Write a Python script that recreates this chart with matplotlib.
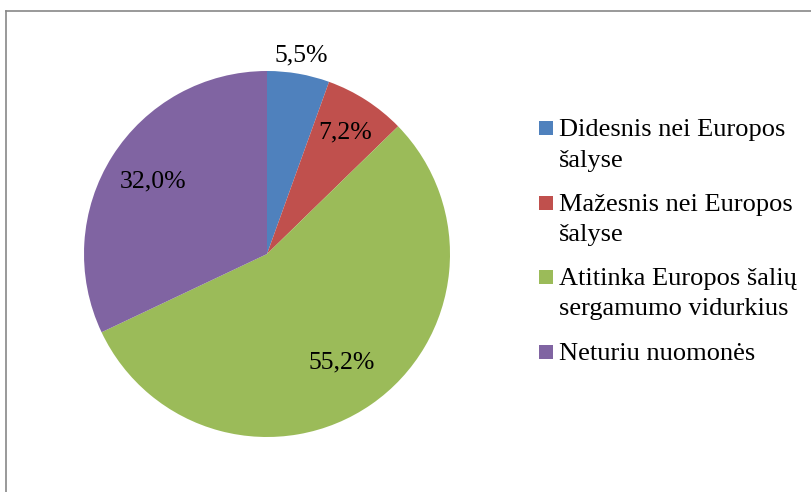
import matplotlib.pyplot as plt
from matplotlib.patches import Rectangle
from matplotlib.lines import Line2D
import numpy as np

# Data
categories = [['Didesnis nei Europos', 'šalyse'],
              ['Mažesnis nei Europos', 'šalyse'],
              ['Atitinka Europos šalių', 'sergamumo vidurkius'],
              ['Neturiu nuomonės']]
values = [5.5, 7.2, 55.2, 32.0]
value_labels = ['5,5%', '7,2%', '55,2%', '32,0%']
colors = ['#4F81BD', '#C0504D', '#9BBB59', '#8064A2']
label_radius = [1.1, 0.79, 0.72, 0.74]

W, H = 811, 492
plt.rcParams['font.family'] = ['Liberation Serif', 'DejaVu Serif']

fig = plt.figure(figsize=(W / 100, H / 100), dpi=100)

# pie axes: centre (267, 254) px, radius 183 px
cx, cy, r = 267, 254, 183
ax = fig.add_axes([(cx - r) / W, (H - cy - r) / H, 2 * r / W, 2 * r / H])
wedges, _ = ax.pie(values, colors=colors, startangle=90, counterclock=False,
                   wedgeprops=dict(linewidth=0))
ax.set_xlim(-1, 1)
ax.set_ylim(-1, 1)
ax.set_aspect('equal')

for w, lab, lr in zip(wedges, value_labels, label_radius):
    mid = np.deg2rad((w.theta1 + w.theta2) / 2)
    ax.text(lr * np.cos(mid), lr * np.sin(mid), lab, ha='center', va='center',
            fontsize=18.5, color='black')

# legend drawn by hand so the marker sits on the first line
fs = 19
line_step = 30.5
entry_step = 44
y = 136  # baseline of first line, px from top
for lines, c in zip(categories, colors):
    fig.patches.append(Rectangle((539 / W, (H - y + 1) / H), 14 / W, 14 / H,
                                 transform=fig.transFigure, color=c, lw=0))
    for i, line in enumerate(lines):
        fig.text(559 / W, (H - y) / H, line, fontsize=fs, va='baseline', ha='left')
        if i < len(lines) - 1:
            y += line_step
    y += entry_step

# chart frame (top and left edges visible)
fig.add_artist(Line2D([5.5 / W, 5.5 / W], [0, (H - 11) / H], color='#888888', lw=1.2))
fig.add_artist(Line2D([5.5 / W, 1], [(H - 11) / H, (H - 11) / H], color='#888888', lw=1.2))

fig.savefig('out.png', dpi=100)
